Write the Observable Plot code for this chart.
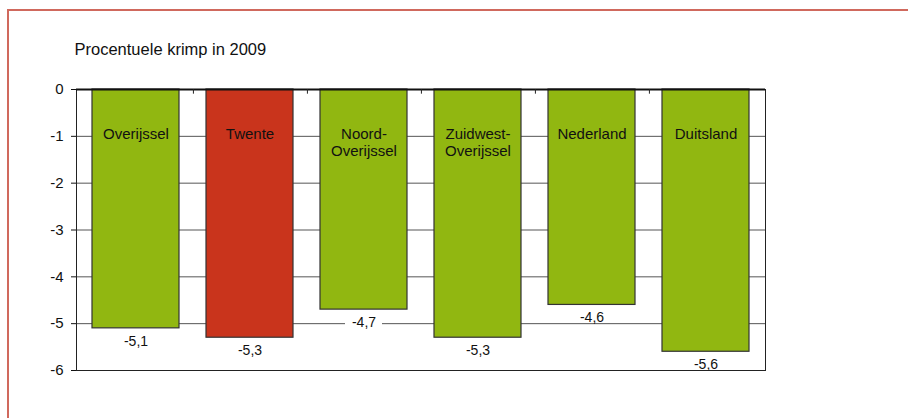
<!DOCTYPE html>
<html><head><meta charset="utf-8">
<script src="https://cdn.jsdelivr.net/npm/d3@7"></script>
<script src="https://cdn.jsdelivr.net/npm/@observablehq/plot@0.6"></script>
<style>
body{margin:0;background:#fff;}
#wrap{position:relative;width:908px;height:418px;overflow:hidden;font-family:"Liberation Sans",Arial,sans-serif;}
#chart{position:absolute;left:0;top:0;}
#frame{position:absolute;left:7px;top:9px;width:920px;height:430px;border-top:2px solid rgb(208,105,93);border-left:2px solid rgb(208,105,93);pointer-events:none;box-sizing:border-box;}
</style></head><body>
<div id="wrap"><div id="chart"></div><div id="frame"></div></div>
<script>
const title = "Procentuele krimp in 2009";
const regions = ["Overijssel", "Twente", "Noord-\nOverijssel", "Zuidwest-\nOverijssel", "Nederland", "Duitsland"];
const values = [-5.1, -5.3, -4.7, -5.3, -4.6, -5.6];
const highlight = ["Twente"];
const yTicks = [0, -1, -2, -3, -4, -5, -6];

const data = regions.map((r, i) => ({region: r, value: values[i], label: String(values[i]).replace(".", ",")}));

const W = 908, H = 418, mL = 76, mR = 143, mT = 89, mB = 48;
const step = (W - mL - mR) / regions.length;
const green = "#91b711", red = "#c9341c";

const plot = Plot.plot({
  width: W, height: H,
  marginLeft: mL, marginRight: mR, marginTop: mT, marginBottom: mB,
  style: {fontFamily: "'Liberation Sans', Arial, sans-serif", fontSize: "15px", color: "#111", background: "transparent"},
  x: {domain: regions, paddingInner: 0.24, paddingOuter: 0.12, axis: null},
  y: {domain: [-6, 0], ticks: yTicks, tickSize: 5, tickPadding: 8, tickFormat: d => String(d), label: null},
  marks: [
    Plot.ruleY(yTicks.slice(1, -1), {stroke: "#555", strokeWidth: 1}),
    Plot.barY(data, {filter: d => !highlight.includes(d.region), x: "region", y1: 0, y2: "value", fill: green, stroke: "#333", strokeWidth: 1.2}),
    Plot.barY(data, {filter: d => highlight.includes(d.region), x: "region", y1: 0, y2: "value", fill: red, stroke: "#333", strokeWidth: 1.2}),
    Plot.barY(data, {x: "region", y1: "value", y2: "value", insetTop: 8, insetBottom: -18, insetLeft: 25, insetRight: 25, fill: "white"}),
    Plot.text(data, {x: "region", y: "value", text: "label", dy: 13, fontSize: 14, fill: "#111"}),
    Plot.text(data, {x: "region", y: 0, text: "region", lineAnchor: "top", dy: 37.6, lineHeight: 1.12, fontSize: 15, fill: "#111"}),
    Plot.frame({stroke: "#222"}),
    Plot.ruleY([0], {stroke: "#111", strokeWidth: 2}),
    Plot.ruleX(regions.slice(0, -1), {x: d => d, y1: 0, y2: -0.1, dx: step / 2, stroke: "#222"}),
    Plot.text([title], {frameAnchor: "top-left", textAnchor: "start", lineAnchor: "middle", dx: -2, dy: -39.5, fontSize: 16.5, fill: "#111"})
  ]
});
document.getElementById("chart").appendChild(plot);
</script>
</body></html>
